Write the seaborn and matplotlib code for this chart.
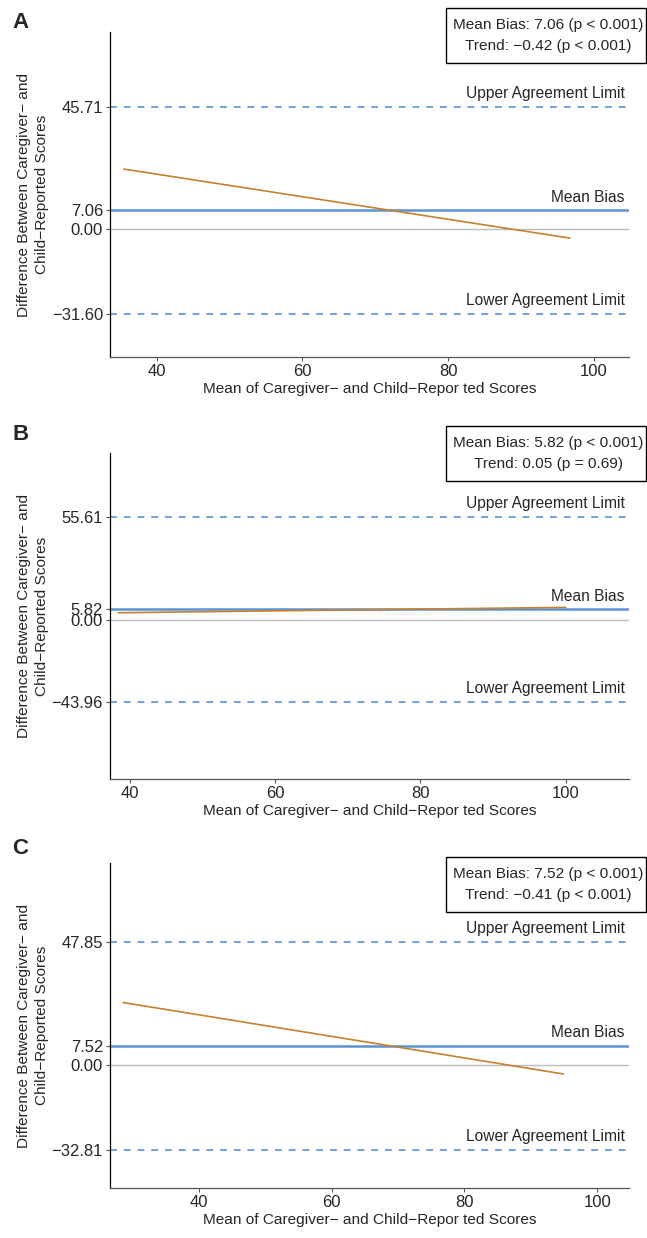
import numpy as np
import pandas as pd
import matplotlib
matplotlib.use('Agg')
import matplotlib.pyplot as plt
import seaborn as sns
from matplotlib.patches import Rectangle

# Bland-Altman style panels
panels = ['A', 'B', 'C']
mean_bias = [7.06, 5.82, 7.52]
upper_limit = [45.71, 55.61, 47.85]
lower_limit = [-31.60, -43.96, -32.81]
trend_slope = ['\u22120.42', '0.05', '\u22120.41']
trend_p = ['p < 0.001', 'p = 0.69', 'p < 0.001']
bias_p = ['p < 0.001', 'p < 0.001', 'p < 0.001']

# fitted trend line end points (x = mean score, y = difference)
trend_x = [[35.5, 96.7], [38.4, 100.0], [28.6, 94.9]]
trend_y = [[22.4, -3.4], [3.9, 6.8], [24.2, -3.5]]

x_ticks = [40, 60, 80, 100]
x_limits = [(33.6, 104.8), (37.3, 108.7), (26.6, 104.8)]
y_limits = [(-47.8, 73.6), (-85.6, 89.9), (-47.7, 78.3)]

sns.set_style('ticks')
plt.rcParams['font.family'] = ['Liberation Sans', 'DejaVu Sans']
plt.rcParams['font.size'] = 11

W, H = 647, 1238
fig = plt.figure(figsize=(W / 100, H / 100), dpi=100)

# axes boxes in pixels: (top, bottom)
ax_rows = [(32, 357), (453, 779), (863, 1188)]
letter_y = [22, 435, 848]
box_rows = [(8, 63), (426, 481), (857, 912)]
box_x = (446, 646)
left_px, right_px = 110, 629

lim_color = '#4a88d8'
bias_color = '#5b93d3'
trend_color = '#c8802e'

for i, p in enumerate(panels):
    top, bot = ax_rows[i]
    ax = fig.add_axes([left_px / W, 1 - bot / H, (right_px - left_px) / W, (bot - top) / H])

    ax.axhline(0, color='#bdbdbd', lw=1.0, zorder=1)
    ax.axhline(upper_limit[i], color=lim_color, lw=1.1, ls=(0, (4.5, 4.5)), zorder=2)
    ax.axhline(lower_limit[i], color=lim_color, lw=1.1, ls=(0, (4.5, 4.5)), zorder=2)
    ax.axhline(mean_bias[i], color=bias_color, lw=1.8, zorder=2)

    df = pd.DataFrame({'x': trend_x[i], 'y': trend_y[i]})
    sns.lineplot(data=df, x='x', y='y', ax=ax, color=trend_color, lw=1.2, zorder=3)

    for val, lab in [(upper_limit[i], 'Upper Agreement Limit'),
                     (mean_bias[i], 'Mean Bias'),
                     (lower_limit[i], 'Lower Agreement Limit')]:
        ax.annotate(lab, xy=(0.992, val), xycoords=('axes fraction', 'data'),
                    xytext=(0, 4), textcoords='offset points',
                    ha='right', va='bottom', fontsize=11.2)

    ax.set_xlim(*x_limits[i])
    ax.set_ylim(*y_limits[i])
    ax.set_xticks(x_ticks)
    yt = [lower_limit[i], 0.0, mean_bias[i], upper_limit[i]]
    ax.set_yticks(yt)
    ax.set_yticklabels([f'{v:.2f}'.replace('-', '\u2212') for v in yt])
    ax.tick_params(axis='both', labelsize=12, length=3, width=0.8, color='#555555', pad=2)

    ax.set_xlabel('Mean of Caregiver\u2212 and Child\u2212Repor ted Scores', fontsize=11.1, labelpad=2)
    ax.set_ylabel('Difference Between Caregiver\u2212 and\nChild\u2212Reported Scores',
                  fontsize=11.1, linespacing=1.3)
    ax.yaxis.set_label_coords(-0.118, 0.5)

    sns.despine(ax=ax)
    ax.spines['left'].set_color('black')
    ax.spines['bottom'].set_color('#555555')
    ax.spines['left'].set_linewidth(0.9)
    ax.spines['bottom'].set_linewidth(0.9)

    fig.text(12 / W, 1 - letter_y[i] / H, p, fontsize=16, fontweight='bold', va='center', ha='left')

    # stats box
    b_top, b_bot = box_rows[i]
    fig.patches.append(Rectangle((box_x[0] / W, 1 - b_bot / H), (box_x[1] - box_x[0]) / W,
                                 (b_bot - b_top) / H, transform=fig.transFigure,
                                 fc='white', ec='black', lw=1.0))
    fig.text(548 / W, 1 - (b_top + b_bot) / 2 / H,
             f'Mean Bias: {mean_bias[i]:.2f} ({bias_p[i]})\nTrend: {trend_slope[i]} ({trend_p[i]})',
             ha='center', va='center', fontsize=11.1, linespacing=1.65)

fig.savefig('out.png', dpi=100)
